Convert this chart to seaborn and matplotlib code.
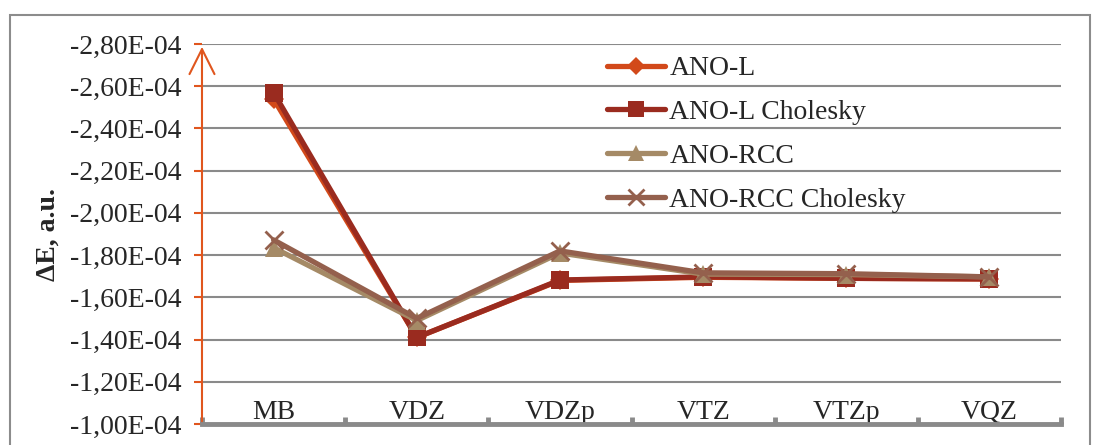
import pandas as pd
import seaborn as sns
import matplotlib.pyplot as plt
from matplotlib.patches import Rectangle
from matplotlib.ticker import FuncFormatter, MultipleLocator

# Basis sets on the x axis
basis_sets = ['MB', 'VDZ', 'VDZp', 'VTZ', 'VTZp', 'VQZ']

# Energy differences (a.u.)
ano_l = [-2.54e-4, -1.41e-4, -1.68e-4, -1.695e-4, -1.69e-4, -1.687e-4]
ano_l_chol = [-2.57e-4, -1.41e-4, -1.682e-4, -1.697e-4, -1.69e-4, -1.687e-4]
ano_rcc = [-1.835e-4, -1.49e-4, -1.81e-4, -1.71e-4, -1.708e-4, -1.697e-4]
ano_rcc_chol = [-1.872e-4, -1.50e-4, -1.82e-4, -1.716e-4, -1.712e-4, -1.697e-4]

series_names = ['ANO-L', 'ANO-L Cholesky', 'ANO-RCC', 'ANO-RCC Cholesky']
series_values = [ano_l, ano_l_chol, ano_rcc, ano_rcc_chol]
colors = ['#D2491A', '#9A2B1F', '#A58A66', '#94604D']
markers = ['D', 's', '^', 'X']

# Long-form table for seaborn
rows = []
for name, vals in zip(series_names, series_values):
    for b, v in zip(basis_sets, vals):
        rows.append({'basis': b, 'dE': v, 'method': name})
df = pd.DataFrame(rows)

sns.set_style('white')
plt.rcParams['font.family'] = ['Liberation Serif', 'DejaVu Serif']
FS = 20

fig = plt.figure(figsize=(10.96, 4.45), dpi=100)
ax = fig.add_axes([0.1843, 0.0472, 0.7838, 0.8539])

# Outer chart border
fig.patches.append(Rectangle((10 / 1096, -0.1), 1080 / 1096, 1.1 - 15 / 445,
                             transform=fig.transFigure, fill=False,
                             edgecolor='#8c8c8c', lw=1.5))

sns.lineplot(data=df, x='basis', y='dE', hue='method', style='method',
             hue_order=series_names, style_order=series_names,
             palette=colors, markers=markers, dashes=False,
             lw=3.8, markersize=13, markeredgewidth=0, ax=ax, sort=False)

# cross marker for the last series
ax.lines[3].set_marker('x')
ax.lines[3].set_markeredgewidth(2)
ax.lines[3].set_markeredgecolor(colors[3])
ax.lines[0].set_markersize(10)

ax.set_xlim(-0.5, 5.5)
ax.set_ylim(-1.0e-4, -2.8e-4)
ax.yaxis.set_major_locator(MultipleLocator(0.2e-4))
ax.yaxis.set_major_formatter(FuncFormatter(lambda v, p: '{:.2E}'.format(v).replace('.', ',')))
ax.grid(axis='y', color='#8a8a8a', lw=1.5)
ax.grid(axis='x', visible=False)
ax.set_axisbelow(True)

for s in ['top', 'right', 'left']:
    ax.spines[s].set_visible(False)
ax.spines['bottom'].set_color('#8a8a8a')
ax.spines['bottom'].set_linewidth(3.5)

# Y axis drawn as an arrow
ax.annotate('', xy=(0, 1.0), xytext=(0, 0), xycoords='axes fraction',
            arrowprops=dict(arrowstyle='->', color='#E0561E', lw=1.5, mutation_scale=45))

ax.tick_params(axis='y', direction='out', length=6, width=1.5, color='#E0561E',
               labelsize=FS, pad=9, left=True)
ax.set_xticks(range(len(basis_sets)))
ax.set_xticklabels(basis_sets)
ax.set_xticks([i - 0.5 for i in range(len(basis_sets) + 1)], minor=True)
ax.tick_params(axis='x', which='major', length=0, labelsize=FS, pad=-17)
ax.tick_params(axis='x', which='minor', direction='in', length=5, width=3.5,
               color='#8a8a8a', bottom=True)

ax.set_xlabel('')
ax.set_ylabel('ΔE, a.u.', fontsize=FS, fontweight='bold')
ax.yaxis.set_label_coords(-0.165, 0.5)

handles, labels = ax.get_legend_handles_labels()
handles[3].set_marker('x')
handles[3].set_markeredgewidth(2)
handles[3].set_markeredgecolor(colors[3])
for h, ms in zip(handles, [9, 11, 11, 11]):
    h.set_markersize(ms)
ax.legend(handles, labels, loc='upper left', bbox_to_anchor=(0.455, 1.005),
          frameon=False, fontsize=FS, handlelength=2.1, handletextpad=0.15,
          labelspacing=0.66, borderpad=0)

fig.savefig('out.png', dpi=100)
